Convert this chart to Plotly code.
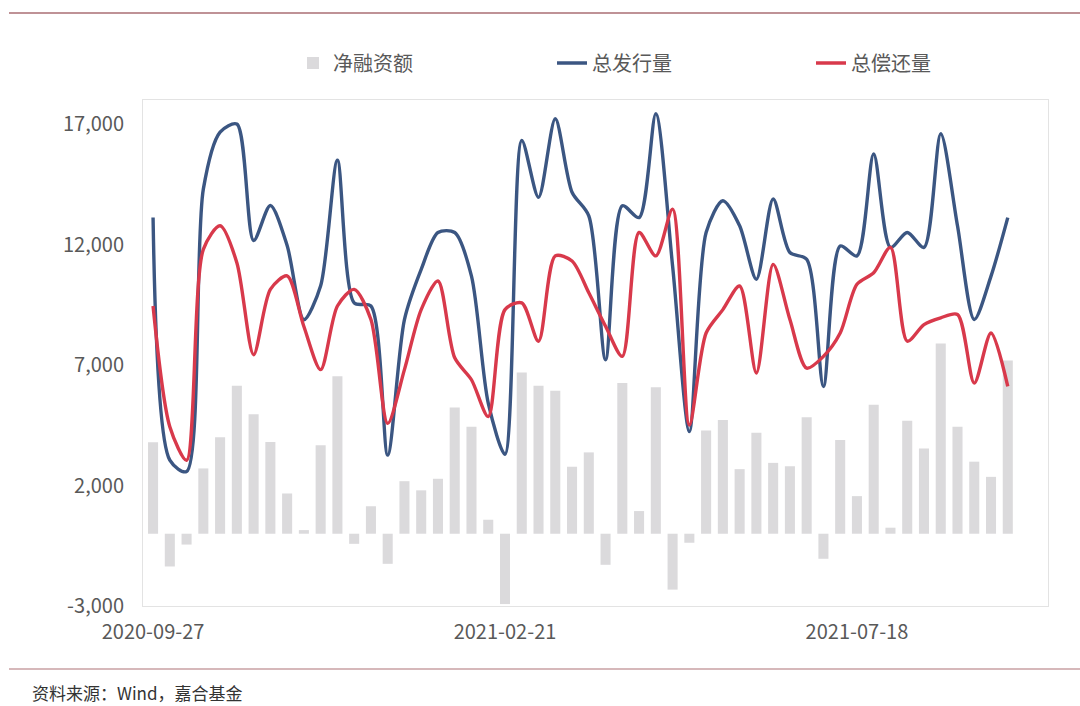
import pandas as pd
import plotly.graph_objects as go

dates = [d.strftime("%Y-%m-%d") for d in pd.date_range("2020-09-27", periods=52, freq="7D")]

net_financing = [3800, -1360, -450, 2710, 4000, 6140, 4960, 3810, 1670, 150,
                 3670, 6530, -420, 1140, -1250, 2180, 1800, 2280, 5240, 4440,
                 580, -2920, 6690, 6140, 5930, 2780, 3375, -1290, 6250, 940,
                 6080, -2320, -375, 4280, 4720, 2680, 4190, 2940, 2800, 4830,
                 -1040, 3890, 1560, 5350, 250, 4690, 3540, 7890, 4440, 2990,
                 2360, 7190]

total_issuance = [13125, 3050, 2580, 14300, 16670, 17000, 12170, 13620, 11960, 8880,
                  10290, 15500, 9580, 9450, 3260, 8890, 10970, 12500, 12500, 10690,
                  5420, 3300, 16320, 13960, 17220, 14170, 13190, 7220, 13610, 13120,
                  17430, 11110, 4240, 12500, 13820, 12780, 10560, 13890, 11670, 11390,
                  6110, 11940, 11530, 15760, 11880, 12500, 11880, 16600, 12780, 8890,
                  10690, 13120]

total_repayment = [9450, 4440, 3050, 11800, 12780, 11250, 7430, 10140, 10700, 8600,
                   6810, 9450, 10140, 8890, 4580, 6810, 9300, 10490, 7300, 6390,
                   4860, 9300, 9580, 7990, 11530, 11320, 10000, 8610, 7360, 12500,
                   11530, 13470, 4510, 8330, 9300, 10280, 6670, 11180, 8890, 6870,
                   7360, 8330, 10350, 10830, 11880, 7990, 8680, 8960, 9100, 6250,
                   8330, 6110]

x_ticks = ["2020-09-27", "2021-02-21", "2021-07-18"]
y_ticks = [-3000, 2000, 7000, 12000, 17000]
y_tick_text = ["-3,000", "2,000", "7,000", "12,000", "17,000"]

font_family = "Noto Sans CJK SC"
text_color = "#595959"

# plot area in pixels
L, R, T, B = 143, 1048, 100, 606
PW, PH = R - L, B - T


def px_x(x):
    return (x - L) / PW


def px_y(y):
    return (B - y) / PH


fig = go.Figure()
fig.add_trace(go.Bar(x=dates, y=net_financing, name="净融资额",
                     marker=dict(color="#dbdadc", line=dict(width=0)), width=0.6))
fig.add_trace(go.Scatter(x=dates, y=total_issuance, name="总发行量", mode="lines",
                         line=dict(color="#3b5682", width=3.4, shape="spline", smoothing=0.8)))
fig.add_trace(go.Scatter(x=dates, y=total_repayment, name="总偿还量", mode="lines",
                         line=dict(color="#d8394b", width=3.4, shape="spline", smoothing=0.8)))

fig.update_layout(
    width=1080, height=706,
    margin=dict(l=L, r=1080 - R, t=T, b=706 - B, autoexpand=False),
    paper_bgcolor="white", plot_bgcolor="white",
    font=dict(family=font_family, color=text_color, size=20),
    showlegend=True,
    legend=dict(orientation="h", x=px_x(293), y=px_y(63), xanchor="left", yanchor="middle",
                entrywidth=214, entrywidthmode="pixels",
                font=dict(size=20, color=text_color), bgcolor="rgba(0,0,0,0)",
                traceorder="normal"),
)
fig.update_xaxes(type="category", tickmode="array", tickvals=x_ticks, ticktext=x_ticks,
                 range=[-0.6, 53.4], showgrid=False, ticks="", showline=True, mirror=True,
                 linecolor="#e3e3e3", linewidth=1, tickfont=dict(size=20, color=text_color),
                 zeroline=False, ticklabelstandoff=8, automargin=False)
fig.update_yaxes(range=[-3000, 18000], tickmode="array", tickvals=y_ticks,
                 ticktext=y_tick_text, showgrid=False, ticks="", showline=True, mirror=True,
                 linecolor="#e3e3e3", linewidth=1, zeroline=False,
                 tickfont=dict(size=20, color=text_color), ticklabelstandoff=14,
                 automargin=False)

fig.add_shape(type="line", xref="paper", yref="paper",
              x0=px_x(9), x1=px_x(1080), y0=px_y(13), y1=px_y(13),
              line=dict(color="#bf9296", width=2))
fig.add_shape(type="line", xref="paper", yref="paper",
              x0=px_x(9), x1=px_x(1080), y0=px_y(669), y1=px_y(669),
              line=dict(color="#c8a0a3", width=1.5))

fig.add_annotation(text="资料来源：Wind，嘉合基金", xref="paper", yref="paper",
                   x=px_x(30), y=px_y(692), xanchor="left", yanchor="middle",
                   showarrow=False, font=dict(family=font_family, size=17, color="#333333"))

fig.write_html("out.html", config={"displayModeBar": False},
               post_script="document.body.style.margin='0';")
